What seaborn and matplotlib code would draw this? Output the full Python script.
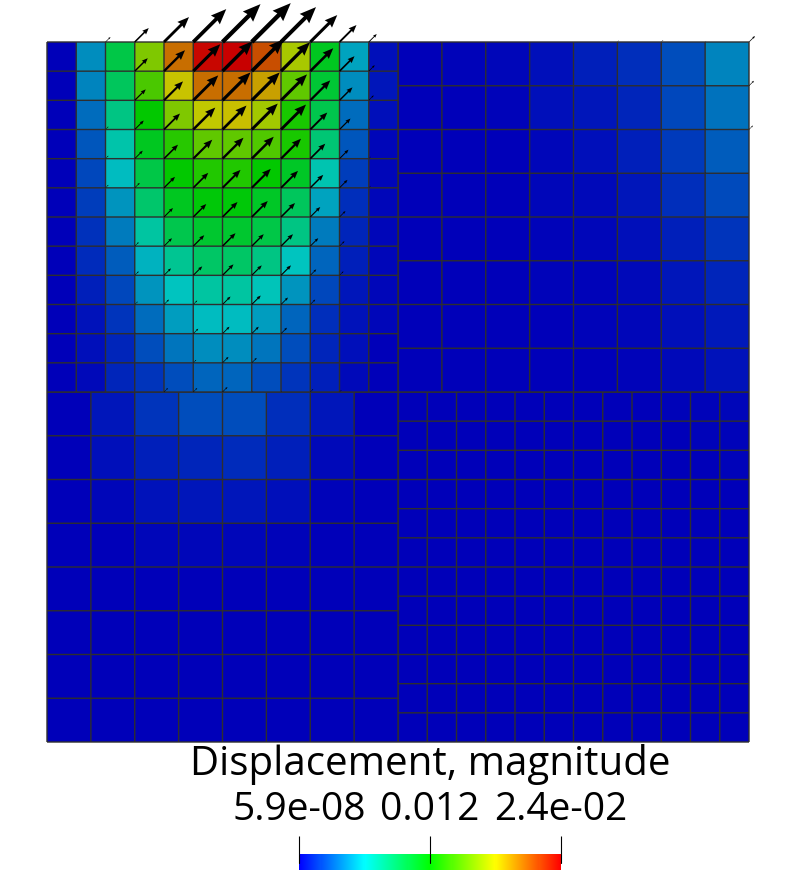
import matplotlib
matplotlib.use("Agg")
import matplotlib.pyplot as plt
import seaborn as sns
import numpy as np
from matplotlib.colors import LinearSegmentedColormap

W, H = 796, 877

# Magnitud normalizada por celda (0 = minimo, 1 = maximo)
top_left = [
    [0, .18, .41, .66, .86, .99, 1.0, .90, .71, .46, .21, .02],
    [0, .17, .38, .59, .755, .86, .86, .80, .62, .43, .18, .03],
    [0, .14, .33, .50, .66, .74, .76, .70, .53, .40, .14, .02],
    [0, .11, .28, .46, .55, .62, .62, .60, .53, .35, .11, .01],
    [0, .09, .24, .41, .50, .54, .54, .50, .45, .27, .08, .01],
    [0, .08, .19, .36, .46, .49, .49, .45, .38, .21, .06, .01],
    [0, .065, .16, .29, .40, .44, .44, .41, .33, .16, .05, .01],
    [0, .055, .12, .23, .31, .37, .37, .33, .25, .13, .04, .01],
    [0, .04, .09, .19, .25, .29, .29, .26, .19, .09, .03, .01],
    [0, .025, .07, .14, .20, .24, .24, .20, .13, .06, .025, .01],
    [0, .02, .05, .10, .15, .18, .18, .15, .10, .05, .02, 0],
    [0, .015, .05, .07, .10, .13, .13, .10, .07, .04, .015, 0],
]
top_right = [
    [0, .005, .01, .02, .04, .06, .10, .17],
    [0, 0, .005, .02, .03, .05, .09, .145],
    [0, 0, 0, .01, .02, .04, .075, .12],
    [0, 0, 0, .01, .015, .03, .06, .095],
    [0, 0, 0, .005, .01, .02, .04, .07],
    [0, 0, 0, .005, .005, .015, .03, .05],
    [0, 0, 0, 0, .005, .01, .02, .035],
    [0, 0, 0, 0, 0, .005, .015, .025],
]
bottom_left = [
    [0, .03, .07, .10, .10, .06, .03, 0],
    [0, .02, .04, .05, .055, .04, .015, 0],
    [0, .01, .025, .03, .03, .02, .005, 0],
    [0, .003, .008, .01, .01, .006, .002, 0],
    [0, 0, .002, .002, .002, .002, 0, 0],
    [0, 0, 0, 0, 0, 0, 0, 0],
    [0, 0, 0, 0, 0, 0, 0, 0],
    [0, 0, 0, 0, 0, 0, 0, 0],
]
bottom_right = [
    [0, 0, 0, 0, 0, 0, 0, 0, .002, .004, .006, .01],
    [0, 0, 0, 0, 0, 0, 0, 0, .002, .002, .004, .007],
    [0, 0, 0, 0, 0, 0, 0, 0, 0, .002, .002, .004],
    [0, 0, 0, 0, 0, 0, 0, 0, 0, 0, .002, .002],
    [0, 0, 0, 0, 0, 0, 0, 0, 0, 0, 0, 0],
    [0, 0, 0, 0, 0, 0, 0, 0, 0, 0, 0, 0],
    [0, 0, 0, 0, 0, 0, 0, 0, 0, 0, 0, 0],
    [0, 0, 0, 0, 0, 0, 0, 0, 0, 0, 0, 0],
    [0, 0, 0, 0, 0, 0, 0, 0, 0, 0, 0, 0],
    [0, 0, 0, 0, 0, 0, 0, 0, 0, 0, 0, 0],
    [0, 0, 0, 0, 0, 0, 0, 0, 0, 0, 0, 0],
    [0, 0, 0, 0, 0, 0, 0, 0, 0, 0, 0, 0],
]

# Largo de las flechas en cada nodo (componente x = y, en pixeles)
arrows_left = [
    [0, 0, 5, 14, 25, 33, 38, 39, 35, 27, 17, 8, 0],
    [0, 0, 1, 13, 21, 27, 30, 32, 29, 23, 15, 6, 0],
    [0, 0, 1, 11, 19, 25, 28, 28, 26, 20, 13, 5, 0],
    [0, 0, 3, 9, 16, 22, 24, 26, 25, 17, 11, 1, 0],
    [0, 0, 3, 8, 14, 19, 21, 22, 20, 15, 9, 2, 0],
    [0, 0, 3, 5, 11, 15, 18, 19, 17, 13, 8, 2, 0],
    [0, 0, 0, 1, 9, 13, 15, 16, 14, 10, 6, 0, 0],
    [0, 0, 0, 4, 8, 11, 13, 12, 12, 8, 5, 0, 0],
    [0, 0, 1, 4, 7, 9, 11, 10, 10, 6, 4, 0, 0],
    [0, 0, 1, 3, 5, 4, 8, 9, 7, 5, 1, 0, 0],
    [0, 0, 0, 1, 1, 5, 7, 7, 6, 1, 0, 0, 0],
    [0, 0, 0, 0, 1, 3, 6, 5, 1, 0, 0, 0, 0],
    [0, 0, 0, 0, 4, 4, 5, 1, 1, 3, 2, 0, 0],
]
arrows_right = [
    [0, 0, 0, 0, 0, 1.5, 2, 1, 6],
    [0, 0, 0, 0, 0, 0, 0, 1, 5],
    [0, 0, 0, 0, 0, 0, 0, 1, 4],
    [0, 0, 0, 0, 0, 0, 0, 1, 0],
    [0, 0, 0, 0, 0, 0, 0, 0, 0],
    [0, 0, 0, 0, 0, 0, 0, 0, 0],
    [0, 0, 0, 0, 0, 0, 0, 0, 0],
    [0, 0, 0, 0, 0, 0, 0, 0, 0],
    [0, 0, 0, 0, 0, 0, 0, 0, 0],
]

title = "Displacement, magnitude"
bar_labels = ["5.9e-08", "0.012", "2.4e-02"]

sns.set_theme(style="white")
plt.rcParams['font.family'] = ['Open Sans', 'DejaVu Sans']

# Colores de la malla (con sombreado) y de la barra
cells_cmap = LinearSegmentedColormap.from_list(
    "cells", ["#0000b9", "#00c4c0", "#00c800", "#c8c800", "#c80000"])
bar_cmap = LinearSegmentedColormap.from_list(
    "bar", ["#0000ff", "#00ffff", "#00ff00", "#ffff00", "#ff0000"])

fig = plt.figure(figsize=(W / 100, H / 100), dpi=100, facecolor="white")


def add_axes_px(x0, y0, x1, y1):
    return fig.add_axes([x0 / W, 1 - y1 / H, (x1 - x0) / W, (y1 - y0) / H])


def draw_patch(values, box, arrows=None):
    ax = add_axes_px(*box)
    sns.heatmap(np.array(values), ax=ax, vmin=0, vmax=1, cmap=cells_cmap, cbar=False,
                xticklabels=False, yticklabels=False)
    n = len(values)
    # Lineas de la malla, sin snap para que todas salgan igual de finas
    edges = np.arange(n + 1)
    for lines in (ax.hlines(edges, 0, n), ax.vlines(edges, 0, n)):
        lines.set(color="#2e2e2e", linewidth=1.0, clip_on=False, snap=False, zorder=3)
    if arrows is not None:
        cell = (box[2] - box[0]) / n
        for j, row in enumerate(arrows):
            for i, d in enumerate(row):
                if d == 0:
                    continue
                d = d / cell
                size = d * np.sqrt(2)
                ax.arrow(i, j, d, -d, width=0.08 * size, head_width=0.27 * size,
                         head_length=0.33 * size, length_includes_head=True, overhang=0.08,
                         color="black", lw=0, clip_on=False, zorder=5)
    return ax


ax_br = draw_patch(bottom_right, (398, 392, 749, 742))
ax_bl = draw_patch(bottom_left, (47, 392, 398, 742))
ax_tr = draw_patch(top_right, (398, 42, 749, 392), arrows_right)
ax_tl = draw_patch(top_left, (47, 42, 398, 392), arrows_left)

fig.text(430 / W, 1 - 775 / H, title, ha="center", va="baseline", fontsize=29, color="black")

# Barra de color
cax = add_axes_px(299, 854, 561, 870)
gradient = np.linspace(0, 1, 256)[None, :]
sns.heatmap(gradient, ax=cax, cmap=bar_cmap, vmin=0, vmax=1, cbar=False,
            xticklabels=False, yticklabels=False)
bar_ticks = [0, 128, 256]
cax.set_xticks(bar_ticks)
cax.set_xticklabels(bar_labels, fontsize=28, color="black")
cax.tick_params(axis="x", top=True, bottom=False, labeltop=True, labelbottom=False,
                length=13, width=0.8, color="black", direction="out", pad=5)
for t in bar_ticks:
    cax.axvline(t, ymin=0.44, ymax=1, color="black", lw=0.8, clip_on=False)

fig.savefig("out.png", dpi=100)
